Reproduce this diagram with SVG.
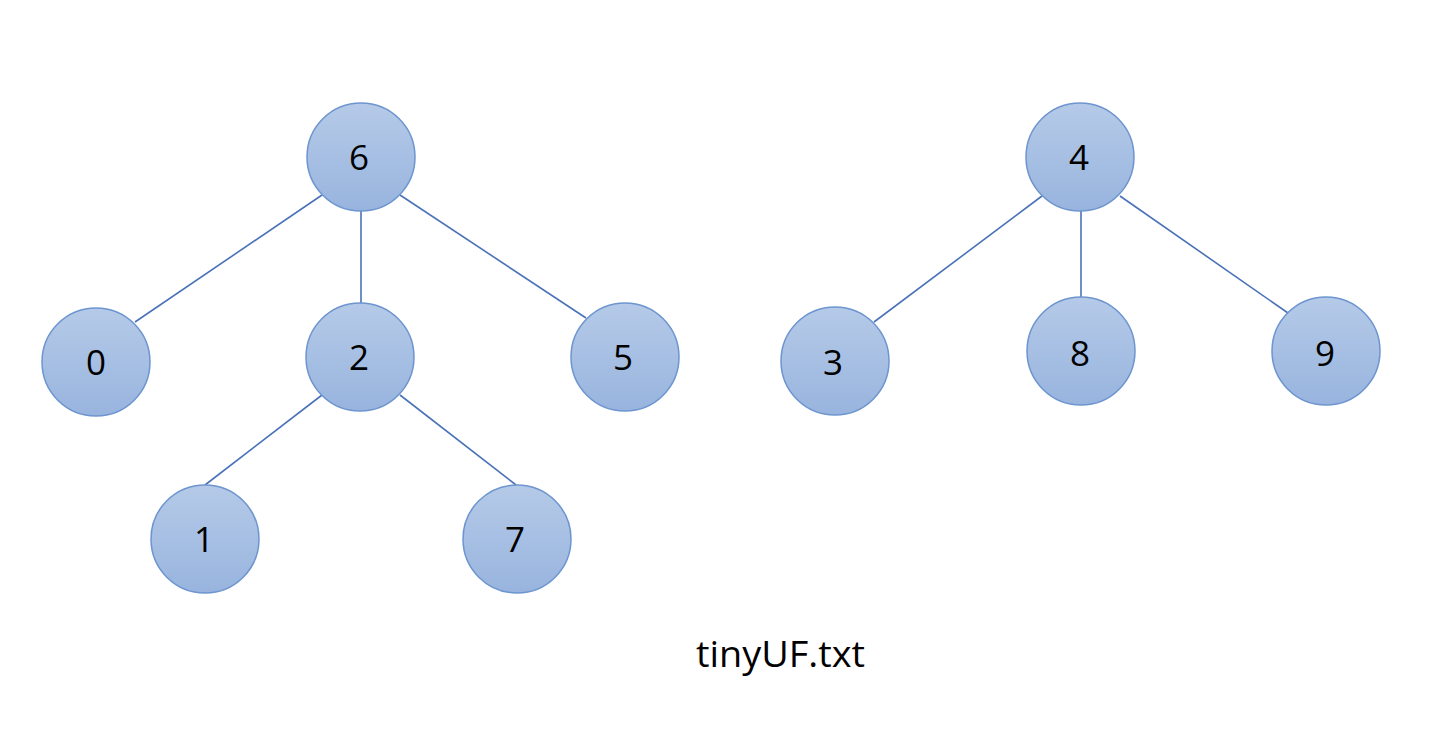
<svg xmlns="http://www.w3.org/2000/svg" width="1442" height="744" viewBox="0 0 1442 744">
<defs>
<linearGradient id="g" x1="0" y1="0" x2="0" y2="1">
<stop offset="0" stop-color="#b5cae8"/>
<stop offset="1" stop-color="#98b4de"/>
</linearGradient>
</defs>
<style>
.n circle{fill:url(#g);stroke:#6d95cf;stroke-width:1.5}
.n text{font-family:"Open Sans","Liberation Sans",sans-serif;font-size:35px;fill:#000;text-anchor:middle}
.e line{stroke:#4a72b8;stroke-width:1.6}
.cap{font-family:"Open Sans","Liberation Sans",sans-serif;font-size:36px;fill:#000}
</style>
<rect width="1442" height="744" fill="#fff"/>
<g id="connectors" class="e">
<line x1="322" y1="195" x2="135" y2="322"/>
<line x1="361" y1="211" x2="361" y2="303"/>
<line x1="400" y1="195" x2="586" y2="318"/>
<line x1="322" y1="395" x2="205" y2="485"/>
<line x1="400" y1="395" x2="516" y2="485"/>
<line x1="1042" y1="196" x2="874" y2="322"/>
<line x1="1081" y1="211" x2="1081" y2="297"/>
<line x1="1120" y1="196" x2="1288" y2="313"/>
</g>
<g id="n6" class="n"><circle cx="361" cy="157" r="54"/><text x="359" y="170">6</text></g>
<g id="n0" class="n"><circle cx="96" cy="362" r="54"/><text x="96" y="375">0</text></g>
<g id="n2" class="n"><circle cx="360" cy="357" r="54"/><text x="359" y="370">2</text></g>
<g id="n5" class="n"><circle cx="625" cy="357" r="54"/><text x="623" y="370">5</text></g>
<g id="n1" class="n"><circle cx="205" cy="539" r="54"/><text x="204" y="552">1</text></g>
<g id="n7" class="n"><circle cx="517" cy="539" r="54"/><text x="515" y="552">7</text></g>
<g id="n4" class="n"><circle cx="1080" cy="157" r="54"/><text x="1079" y="170">4</text></g>
<g id="n3" class="n"><circle cx="835" cy="361" r="54"/><text x="833" y="375">3</text></g>
<g id="n8" class="n"><circle cx="1081" cy="351" r="54"/><text x="1080" y="366">8</text></g>
<g id="n9" class="n"><circle cx="1326" cy="351" r="54"/><text x="1325" y="366">9</text></g>
<text class="cap" x="696" y="667" textLength="169" lengthAdjust="spacingAndGlyphs">tinyUF.txt</text>
</svg>
